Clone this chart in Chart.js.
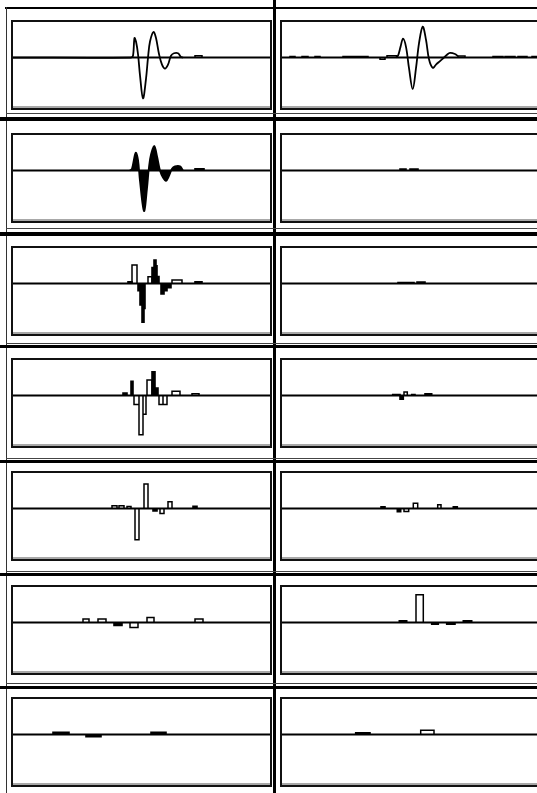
<!DOCTYPE html>
<html>
<head>
<meta charset="utf-8">
<script src="https://cdn.jsdelivr.net/npm/chart.js@4/dist/chart.umd.min.js"></script>
<style>
  html, body { margin: 0; padding: 0; background: #fff; overflow: hidden; }
  #sheet { position: relative; width: 537px; height: 793px; overflow: hidden; background: #fff; }
  .rule { position: absolute; background: #000; }
  .box { position: absolute; border: 2px solid #111; box-shadow: inset 0 -2px 0 #a8a8a8; }
  .box canvas { display: block; }
</style>
</head>
<body>
<div id="sheet"></div>
<script>
// sample index runs 0..257 across every panel
const X_MAX = 257;
const Y_MIN = -1.42;
const Y_MAX = 1;

// row 1: signal (left) and reconstruction (right), [index, value]
const signalWave = [[0, 0], [118, 0], [120, 0.05], [121.5, 0.55], [123, 0.45], [125, 0.1], [127, -0.5], [130, -1.15],
  [133, -0.6], [135, 0], [137, 0.45], [140.5, 0.72], [143, 0.55], [146, 0.1], [149, -0.2], [152, -0.31], [155, -0.2],
  [158, 0.05], [161, 0.12], [165, 0.12], [168, 0.02], [170, 0]];
const signalSteps = [[182, 189, 0.05]];

const reconWave = [[114, 0], [116, 0.05], [118.5, 0.3], [121, 0.53], [124, 0.3], [127, -0.3], [130.7, -0.89], [134, -0.3],
  [137, 0.4], [140.7, 0.87], [144, 0.5], [147, -0.05], [150.7, -0.29], [154, -0.2], [158, -0.1], [162, 0], [165, 0.08],
  [168, 0.13], [173, 0.1], [176, 0.04]];
const reconSteps = [[8, 13, 0.03], [20, 26, 0.03], [33, 38, 0.03], [61, 69, 0.03], [70, 78, 0.03], [79, 86, 0.03],
  [98, 103, -0.05], [105, 115, 0.05], [176, 183, 0.04], [211, 221, 0.03], [223, 233, 0.03], [236, 245, 0.03], [250, 257, 0.03]];

// row 2 left: filled signal
const level1Wave = [[117, 0], [119, 0.05], [122.7, 0.5], [125, 0.3], [127, -0.3], [131, -1.14], [134, -0.5], [136, 0.1],
  [138, 0.45], [141.3, 0.69], [144, 0.4], [147, 0], [150, -0.2], [153, -0.29], [156, -0.15], [159, 0.05], [162, 0.12],
  [167, 0.12], [170, 0]];
const level1Steps = [[182, 191, 0.05]];
const detail1Steps = [[118, 124, 0.04], [128, 136, 0.04]];

// rows 3..7: coefficient blocks, [from, to, value]
const level2Filled = [[115, 119, 0.05], [125, 127, -0.2], [127, 129, -0.6], [129, 131, -1.09], [131, 132, -0.7],
  [139, 141, 0.45], [141, 143, 0.66], [143, 144, 0.5], [144, 146, 0.2], [148, 151, -0.29], [151, 154, -0.2],
  [154, 158, -0.12], [182, 189, 0.05]];
const level2Hollow = [[119, 124, 0.52], [135, 139, 0.19], [159, 169, 0.1]];
const detail2Steps = [[116, 121, 0.03], [122, 127, 0.03], [128, 132, 0.03], [135, 143, 0.04]];

const level3Filled = [[110, 114, 0.07], [118, 120, 0.4], [139, 142, 0.67], [142, 145, 0.21]];
const level3Hollow = [[121, 126, -0.25], [126, 130, -1.1], [130, 133, -0.53], [134, 139, 0.44], [146, 150, -0.25],
  [150, 154, -0.25], [159, 167, 0.12], [179, 186, 0.05]];
const detail3Filled = [[110.7, 114.7, 0.03], [114.7, 118, 0.03], [118, 121.3, -0.1], [129.7, 133, 0.03], [143, 149.7, 0.05]];
const detail3Hollow = [[122, 125.3, 0.1]];

const level4Filled = [[140, 144, -0.07], [180, 184, 0.06]];
const level4Hollow = [[99, 104, 0.08], [106, 111, 0.08], [114, 118, 0.06], [122, 126, -0.88], [131, 135, 0.69],
  [147, 151, -0.14], [155, 159, 0.19]];
const detail4Filled = [[99, 103, 0.05], [115.3, 118.7, -0.09], [171.3, 175.3, 0.05]];
const detail4Hollow = [[122, 126.7, -0.08], [131.3, 135.7, 0.15], [155.7, 159, 0.11]];

const level5Filled = [[101, 109, -0.08]];
const level5Hollow = [[70, 76, 0.1], [85, 93, 0.1], [117, 125, -0.14], [134, 141, 0.14], [182, 190, 0.1]];
const detail5Filled = [[117.3, 124.7, 0.05], [149.7, 156.3, -0.05], [164.7, 173, -0.05], [181.3, 189.7, 0.05]];
const detail5Hollow = [[134, 141.3, 0.78]];

const level6Filled = [[40, 56, 0.06], [73, 88, -0.06], [138, 153, 0.06]];
const detail6Filled = [[73.7, 88, 0.05]];
const detail6Hollow = [[138.7, 152, 0.12]];

const ROW_TOPS = [22, 135, 248, 360, 473, 587, 699];
const BOX_H = 86;
const COL_LEFT = [13, 282];

const sheet = document.getElementById('sheet');

function rule(x, y, w, h, color) {
  const d = document.createElement('div');
  d.className = 'rule';
  d.style.cssText = `left:${x}px;top:${y}px;width:${w}px;height:${h}px;` + (color ? `background:${color}` : '');
  sheet.appendChild(d);
}

function wavePoints(list) {
  return list.map(p => ({ x: p[0], y: p[1] }));
}

function stepPoints(list) {
  const pts = [];
  list.forEach(s => {
    pts.push({ x: s[0], y: 0 }, { x: s[0], y: s[2] }, { x: s[1], y: s[2] }, { x: s[1], y: 0 }, { x: s[1], y: null });
  });
  return pts;
}

function line(points, opts) {
  return Object.assign({ data: points, borderColor: '#000', borderWidth: 1.6, pointRadius: 0, tension: 0, fill: false, spanGaps: false }, opts);
}

function panel(row, col, sets) {
  const box = document.createElement('div');
  box.className = 'box';
  box.style.left = (COL_LEFT[col] - 2) + 'px';
  box.style.top = (ROW_TOPS[row] - 2) + 'px';
  box.style.width = X_MAX + 'px';
  box.style.height = BOX_H + 'px';
  const canvas = document.createElement('canvas');
  canvas.width = X_MAX;
  canvas.height = BOX_H;
  box.appendChild(canvas);
  sheet.appendChild(box);

  const zero = line([{ x: 0, y: 0 }, { x: X_MAX, y: 0 }], { borderWidth: 2 });
  new Chart(canvas, {
    type: 'line',
    data: { datasets: [zero].concat(sets) },
    options: {
      responsive: false,
      animation: false,
      events: [],
      layout: { padding: 0 },
      plugins: { legend: { display: false }, tooltip: { enabled: false } },
      scales: {
        x: { type: 'linear', min: 0, max: X_MAX, display: false },
        y: { min: Y_MIN, max: Y_MAX, display: false }
      }
    }
  });
}

const filled = list => line(stepPoints(list), { fill: 'origin', backgroundColor: '#000' });
const hollow = list => line(stepPoints(list), { borderWidth: 1.5 });

// frame rules
rule(5, 7, 532, 2);
rule(6, 7, 1, 786, '#333');
rule(273, 0, 3, 793);
[[113, 117, 4], [228, 232, 4], [343, 345, 3], [458, 460, 3], [571, 573, 3], [683, 686, 3]].forEach(r => {
  rule(6, r[0], 531, 1, '#444');
  rule(0, r[1], 537, r[2]);
});

panel(0, 0, [line(wavePoints(signalWave), { tension: 0.35, borderWidth: 1.8 }), hollow(signalSteps)]);
panel(0, 1, [line(wavePoints(reconWave), { tension: 0.35, borderWidth: 1.8 }), hollow(reconSteps)]);

panel(1, 0, [line(wavePoints(level1Wave), { tension: 0.35, borderWidth: 1.8, fill: 'origin', backgroundColor: '#000' }), filled(level1Steps)]);
panel(1, 1, [filled(detail1Steps)]);

panel(2, 0, [filled(level2Filled), hollow(level2Hollow)]);
panel(2, 1, [filled(detail2Steps)]);

panel(3, 0, [filled(level3Filled), hollow(level3Hollow)]);
panel(3, 1, [filled(detail3Filled), hollow(detail3Hollow)]);

panel(4, 0, [filled(level4Filled), hollow(level4Hollow)]);
panel(4, 1, [filled(detail4Filled), hollow(detail4Hollow)]);

panel(5, 0, [filled(level5Filled), hollow(level5Hollow)]);
panel(5, 1, [filled(detail5Filled), hollow(detail5Hollow)]);

panel(6, 0, [filled(level6Filled)]);
panel(6, 1, [filled(detail6Filled), hollow(detail6Hollow)]);
</script>
</body>
</html>
